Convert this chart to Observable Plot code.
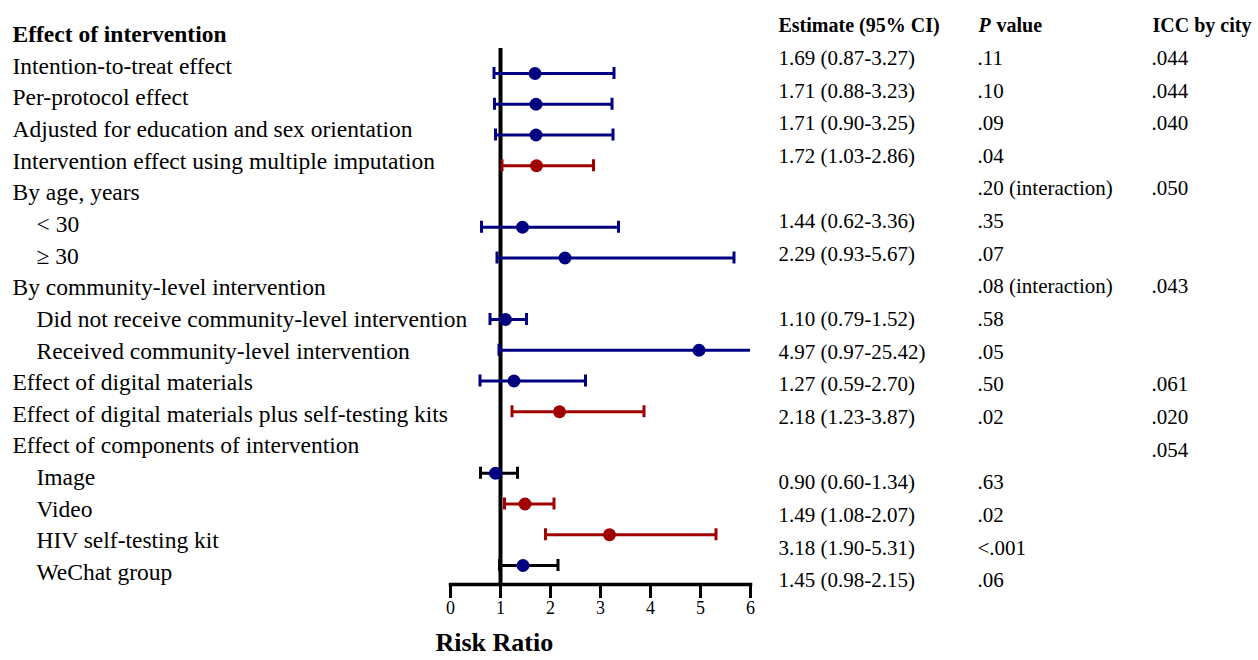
<!DOCTYPE html>
<html>
<head>
<meta charset="utf-8">
<script src="https://cdn.jsdelivr.net/npm/d3@7"></script>
<script src="https://cdn.jsdelivr.net/npm/@observablehq/plot@0.6"></script>
<style>
  html, body { margin: 0; padding: 0; background: white; }
  #chart { position: relative; width: 1258px; height: 660px; overflow: hidden; }
  #chart svg { position: absolute; left: 0; top: 0; }
</style>
</head>
<body>
<div id="chart"></div>
<script>
// ---------- data ----------
const labels = [
  "Effect of intervention",
  "Intention-to-treat effect",
  "Per-protocol effect",
  "Adjusted for education and sex orientation",
  "Intervention effect using multiple imputation",
  "By age, years",
  "< 30",
  "\u2265 30",
  "By community-level intervention",
  "Did not receive community-level intervention",
  "Received community-level intervention",
  "Effect of digital materials",
  "Effect of digital materials plus self-testing kits",
  "Effect of components of intervention",
  "Image",
  "Video",
  "HIV self-testing kit",
  "WeChat group"
];
const labelIndent = [0,0,0,0,0,0,1,1,0,1,1,0,0,0,1,1,1,1];

const estRows  = [1, 2, 3, 4, 6, 7, 9, 10, 11, 12, 14, 15, 16, 17];
const estimate = [1.69, 1.71, 1.71, 1.72, 1.44, 2.29, 1.10, 4.97, 1.27, 2.18, 0.90, 1.49, 3.18, 1.45];
const lower    = [0.87, 0.88, 0.90, 1.03, 0.62, 0.93, 0.79, 0.97, 0.59, 1.23, 0.60, 1.08, 1.90, 0.98];
const upper    = [3.27, 3.23, 3.25, 2.86, 3.36, 5.67, 1.52, 25.42, 2.70, 3.87, 1.34, 2.07, 5.31, 2.15];
const pValues  = [".11", ".10", ".09", ".04", ".35", ".07", ".58", ".05", ".50", ".02", ".63", ".02", "<.001", ".06"];
const group    = ["ns","ns","ns","sig","ns","ns","ns","ns","ns","sig","component","sig","sig","component"];

const interactionRows = [5, 8];
const interactionP    = [".20 (interaction)", ".08 (interaction)"];

const iccRows   = [1, 2, 3, 5, 8, 11, 12, 13];
const iccValues = [".044", ".044", ".040", ".050", ".043", ".061", ".020", ".054"];

const columnHeaders = ["Estimate (95% CI)", "P", "value", "ICC by city"];
const xTicks = [0, 1, 2, 3, 4, 5, 6];
const xLabel = "Risk Ratio";

// ---------- styles ----------
const groupStyle = {
  ns:        {bar: "#000080", dot: "#000080"},
  sig:       {bar: "#A00000", dot: "#A00000"},
  component: {bar: "#000000", dot: "#000080"}
};
const serif = "'Liberation Serif', 'Times New Roman', serif";
const W = 1258, H = 660;

// ---------- tables built from arrays ----------
const labelRows = labels.map((t, i) => ({row: i, text: t, indent: labelIndent[i]}));
const rows = estRows.map((r, i) => ({
  row: r, est: estimate[i], lo: lower[i], hi: upper[i], p: pValues[i], group: group[i],
  ci: `${estimate[i].toFixed(2)} (${lower[i].toFixed(2)}-${upper[i].toFixed(2)})`
}));
const interRows = interactionRows.map((r, i) => ({row: r, text: interactionP[i]}));
const iccData = iccRows.map((r, i) => ({row: r, text: iccValues[i]}));
const xMax = d3.max(xTicks);

const chart = document.getElementById("chart");
const baseStyle = {fontFamily: serif, color: "black", background: "transparent", overflow: "visible"};

// ---------- left labels ----------
const labelPlot = Plot.plot({
  width: W, height: H,
  marginLeft: 12, marginRight: 0, marginTop: 0, marginBottom: 0,
  style: baseStyle,
  x: {axis: null, domain: [0, 1]},
  y: {axis: null, domain: [0, 17], range: [34, 572]},
  marks: [
    Plot.text(labelRows.filter(d => d.row === 0), {y: "row", text: "text", frameAnchor: "left", textAnchor: "start", fontSize: 23.5, fontWeight: "bold", fill: "black", fontFamily: serif}),
    Plot.text(labelRows.filter(d => d.row > 0 && !d.indent), {y: "row", text: "text", frameAnchor: "left", textAnchor: "start", fontSize: 23.5, fill: "black", fontFamily: serif}),
    Plot.text(labelRows.filter(d => d.row > 0 && d.indent), {y: "row", text: "text", frameAnchor: "left", textAnchor: "start", dx: 24, fontSize: 23.5, fill: "black", fontFamily: serif})
  ]
});

// ---------- forest plot ----------
const forestPlot = Plot.plot({
  width: W, height: H,
  marginLeft: 450, marginRight: W - 750, marginTop: 48, marginBottom: H - 584,
  style: baseStyle,
  x: {domain: [0, xMax], clamp: true},
  y: {axis: null, domain: [1, 17], range: [73, 565]},
  marks: [
    Plot.ruleX([1], {stroke: "black", strokeWidth: 4}),
    Plot.ruleY(rows, {x1: "lo", x2: "hi", y: "row", stroke: d => groupStyle[d.group].bar, strokeWidth: 3}),
    Plot.ruleX(rows, {x: "lo", y1: "row", y2: "row", insetTop: -6, insetBottom: -6, stroke: d => groupStyle[d.group].bar, strokeWidth: 3}),
    Plot.ruleX(rows.filter(d => d.hi <= xMax), {x: "hi", y1: "row", y2: "row", insetTop: -6, insetBottom: -6, stroke: d => groupStyle[d.group].bar, strokeWidth: 3}),
    Plot.dot(rows, {x: "est", y: "row", r: 6.5, fill: d => groupStyle[d.group].dot, stroke: "none"}),
    Plot.frame({anchor: "bottom", stroke: "black", strokeWidth: 3.5}),
    Plot.axisX({ticks: xTicks, tickFormat: () => "", tickSize: 14, strokeWidth: 3, label: null, stroke: "black"}),
    Plot.text(xTicks, {x: d => d, text: d => String(d), frameAnchor: "bottom", dy: 29, fontSize: 18, fill: "black", fontFamily: serif}),
    Plot.text([xLabel], {text: d => d, frameAnchor: "bottom-left", textAnchor: "start", dx: -15, dy: 66, fontSize: 26, fontWeight: "bold", fill: "black", fontFamily: serif})
  ]
});

// ---------- right table ----------
const tablePlot = Plot.plot({
  width: W, height: H,
  marginLeft: 0, marginRight: 0, marginTop: 0, marginBottom: 0,
  style: baseStyle,
  x: {axis: null, domain: [0, 1]},
  y: {axis: null, domain: [0, 17], range: [25, 580]},
  marks: [
    Plot.text([columnHeaders[0]], {y: () => 0, text: d => d, frameAnchor: "left", textAnchor: "start", dx: 778, fontSize: 20, fontWeight: "bold", fill: "black", fontFamily: serif}),
    Plot.text([columnHeaders[1]], {y: () => 0, text: d => d, frameAnchor: "left", textAnchor: "start", dx: 978, fontSize: 20, fontWeight: "bold", fontStyle: "italic", fill: "black", fontFamily: serif}),
    Plot.text([columnHeaders[2]], {y: () => 0, text: d => d, frameAnchor: "left", textAnchor: "start", dx: 996, fontSize: 20, fontWeight: "bold", fill: "black", fontFamily: serif}),
    Plot.text([columnHeaders[3]], {y: () => 0, text: d => d, frameAnchor: "left", textAnchor: "start", dx: 1152, fontSize: 20, fontWeight: "bold", fill: "black", fontFamily: serif}),
    Plot.text(rows, {y: "row", text: "ci", frameAnchor: "left", textAnchor: "start", dx: 778, fontSize: 21, fill: "black", fontFamily: serif}),
    Plot.text(rows, {y: "row", text: "p", frameAnchor: "left", textAnchor: "start", dx: 977, fontSize: 21, fill: "black", fontFamily: serif}),
    Plot.text(interRows, {y: "row", text: "text", frameAnchor: "left", textAnchor: "start", dx: 977, fontSize: 21, fill: "black", fontFamily: serif}),
    Plot.text(iccData, {y: "row", text: "text", frameAnchor: "left", textAnchor: "start", dx: 1151, fontSize: 21, fill: "black", fontFamily: serif})
  ]
});

chart.append(labelPlot, forestPlot, tablePlot);
</script>
</body>
</html>
